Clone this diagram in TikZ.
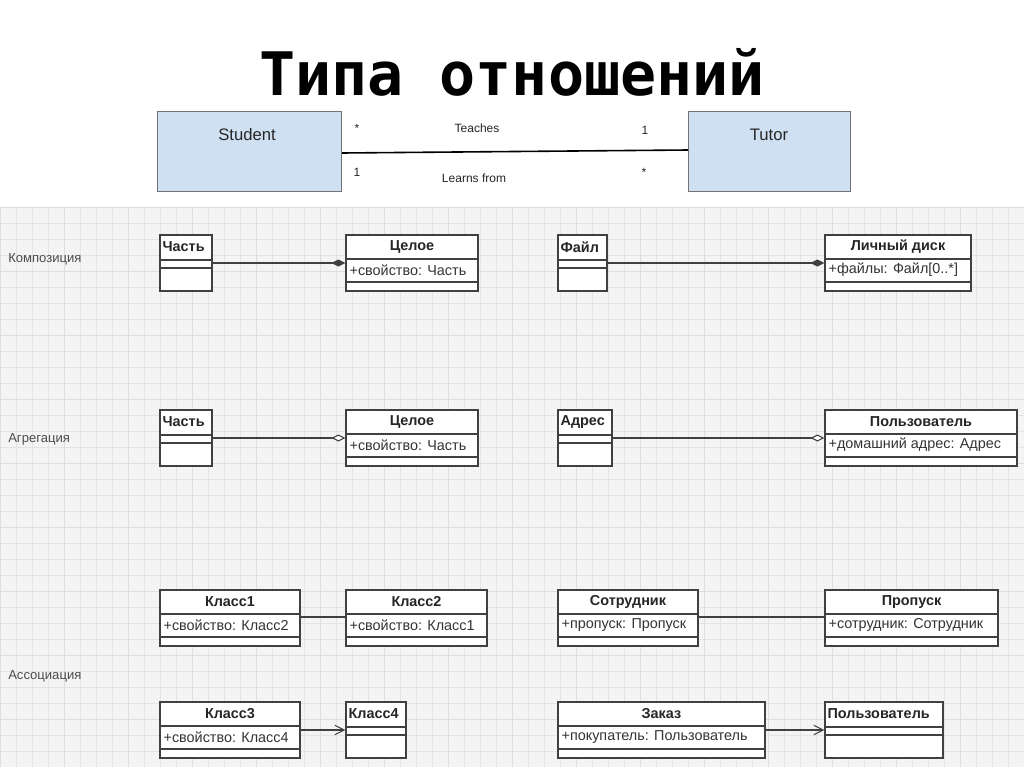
\documentclass[tikz,border=0pt]{standalone}
\usepackage{fontspec}
\setmainfont{Liberation Sans}
\newfontfamily\titlef{DejaVu Sans Mono}
\usetikzlibrary{fit,arrows.meta}
\definecolor{boxc}{HTML}{404040}
\definecolor{gridc}{HTML}{E4E4E4}
\definecolor{bgc}{HTML}{F4F4F4}
\definecolor{stud}{HTML}{CFE0F2}
\tikzset{
  hdr/.style={font=\bfseries\fontsize{10.8}{12}\selectfont, text=black!85, inner sep=1pt},
  attr/.style={font=\fontsize{10.8}{12}\selectfont, text=black!80, inner sep=1pt, anchor=west},
  lbl/.style={font=\fontsize{9.8}{11}\selectfont, text=black!70, inner sep=0pt, anchor=west},
  conn/.style={draw=boxc, line width=0.8pt},
  small/.style={font=\fontsize{9}{11}\selectfont, text=black!85, inner sep=0pt},
  big/.style={font=\fontsize{12.5}{14}\selectfont, text=black!85, inner sep=0pt},
}
\newcommand\umlbox[7]{%
  \path (#2,#3) coordinate (#1-nw) (#4,#5) coordinate (#1-se);
  \node[fit=(#1-nw)(#1-se), inner sep=0pt, draw=boxc, fill=white, line width=0.8pt] (#1) {};
  \draw[boxc, line width=0.8pt] (#2,#6) -- (#4,#6) (#2,#7) -- (#4,#7);
}
\newcommand\umlB[6]{%
  \umlbox{#1}{#2}{#3}{#4}{#3+56}{#3+24}{#3+47}
  \node[hdr] (#1-t) at ({(#2+#4)/2},#3+12) {#5};
  \node[attr] (#1-a) at (#2+2,#3+35) {#6};
}
\newcommand\umlA[5]{%
  \umlbox{#1}{#2}{#3}{#4}{#3+56}{#3+25}{#3+33}
  \node[hdr, anchor=west] (#1-t) at (#2+1,#3+12) {#5};
}
\begin{document}
\begin{tikzpicture}[x=0.75pt,y=-0.75pt]
\useasboundingbox (0,0) rectangle (1024,767);
\fill[white] (0,0) rectangle (1024,767);
\fill[bgc] (0,207) rectangle (1024,767);
\foreach \x in {0,16,...,1024} \draw[gridc, line width=0.4pt] (\x,207) -- (\x,767);
\foreach \y in {207,223,...,767} \draw[gridc, line width=0.4pt] (0,\y) -- (1024,\y);
\foreach \x in {0,64,...,1024} \draw[black!13, line width=0.5pt] (\x,207) -- (\x,767);
\foreach \y in {207,271,...,767} \draw[black!13, line width=0.5pt] (0,\y) -- (1024,\y);

\node[font=\titlef\bfseries\fontsize{45}{50}\selectfont, inner sep=0pt] (title) at (512,72) {Типа отношений};

\node[draw=black!55, fill=stud, line width=0.8pt, minimum width=138pt, minimum height=60pt, anchor=north west] (student) at (157,111) {};
\node[draw=black!55, fill=stud, line width=0.8pt, minimum width=121.5pt, minimum height=60pt, anchor=north west] (tutor) at (688,111) {};
\node[big] (studentt) at (247,135) {Student};
\node[big] (tutort) at (769,135) {Tutor};
\draw[black, line width=1.2pt] (student.east |- 0,153) -- (tutor.west |- 0,150);
\node[small] (s1) at (357,128) {*};
\node[small] (s2) at (477,128) {Teaches};
\node[small] (s3) at (645,130) {1};
\node[small] (s4) at (357,172) {1};
\node[small] (s5) at (474,178) {Learns from};
\node[small] (s6) at (644,172) {*};

\node[lbl] (l1) at (8,259) {Композиция};
\node[lbl] (l2) at (8,439) {Агрегация};
\node[lbl] (l3) at (8,676) {Ассоциация};

\umlA{a1}{160}{235}{212}{Часть}
\umlB{b1}{346}{235}{478}{Целое}{+свойство: Часть}
\umlA{c1}{558}{235}{607}{Файл}
\umlB{d1}{825}{235}{971}{Личный диск}{+файлы: Файл[0..*]}
\draw[conn, -{Diamond[length=14pt*0.75, width=7pt*0.75]}] (a1.east |- 0,263) -- (b1.west |- 0,263);
\draw[conn, -{Diamond[length=14pt*0.75, width=7pt*0.75]}] (c1.east |- 0,263) -- (d1.west |- 0,263);

\umlA{a2}{160}{410}{212}{Часть}
\umlB{b2}{346}{410}{478}{Целое}{+свойство: Часть}
\umlA{c2}{558}{410}{612}{Адрес}
\umlB{d2}{825}{410}{1017}{Пользователь}{+домашний адрес: Адрес}
\draw[conn, -{Diamond[open, fill=white, length=14pt*0.75, width=7pt*0.75]}] (a2.east |- 0,438) -- (b2.west |- 0,438);
\draw[conn, -{Diamond[open, fill=white, length=14pt*0.75, width=7pt*0.75]}] (c2.east |- 0,438) -- (d2.west |- 0,438);

\umlB{a3}{160}{590}{300}{Класс1}{+свойство: Класс2}
\umlB{b3}{346}{590}{487}{Класс2}{+свойство: Класс1}
\umlB{c3}{558}{590}{698}{Сотрудник}{+пропуск: Пропуск}
\umlB{d3}{825}{590}{998}{Пропуск}{+сотрудник: Сотрудник}
\draw[conn] (a3.east |- 0,617) -- (b3.west |- 0,617);
\draw[conn] (c3.east |- 0,617) -- (d3.west |- 0,617);

\umlB{a4}{160}{702}{300}{Класс3}{+свойство: Класс4}
\umlA{b4}{346}{702}{406}{Класс4}
\umlB{c4}{558}{702}{765}{Заказ}{+покупатель: Пользователь}
\umlA{d4}{825}{702}{943}{Пользователь}
\draw[conn, -{Straight Barb[length=7pt, width=7pt]}] (a4.east |- 0,730) -- (b4.west |- 0,730);
\draw[conn, -{Straight Barb[length=7pt, width=7pt]}] (c4.east |- 0,730) -- (d4.west |- 0,730);
\end{tikzpicture}
\end{document}
